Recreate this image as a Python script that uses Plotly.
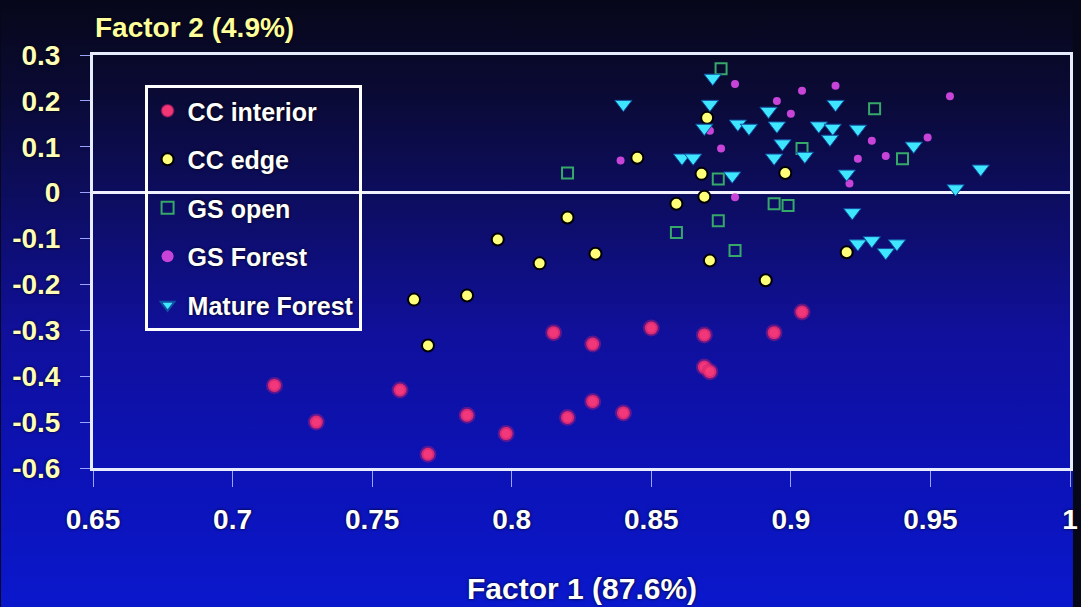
import base64
import plotly.graph_objects as go

# ---- data -------------------------------------------------------------
cc_interior_x = [0.715, 0.730, 0.760, 0.770, 0.784, 0.798, 0.815, 0.820, 0.829,
                 0.829, 0.840, 0.850, 0.869, 0.869, 0.871, 0.894, 0.904]
cc_interior_y = [-0.42, -0.50, -0.43, -0.57, -0.485, -0.525, -0.305, -0.49, -0.33,
                 -0.455, -0.48, -0.295, -0.31, -0.38, -0.39, -0.305, -0.26]

cc_edge_x = [0.765, 0.770, 0.784, 0.795, 0.810, 0.820, 0.830, 0.845, 0.859,
             0.868, 0.870, 0.869, 0.871, 0.891, 0.898, 0.920]
cc_edge_y = [-0.233, -0.333, -0.224, -0.102, -0.154, -0.054, -0.133, 0.076, -0.024,
             0.041, 0.163, -0.009, -0.148, -0.191, 0.043, -0.130]

gs_open_x = [0.820, 0.859, 0.874, 0.874, 0.880, 0.875, 0.894, 0.899, 0.904, 0.930, 0.940]
gs_open_y = [0.043, -0.087, 0.030, -0.061, -0.126, 0.270, -0.024, -0.028, 0.096, 0.183, 0.074]

gs_forest_x = [0.880, 0.895, 0.904, 0.900, 0.875, 0.871, 0.839, 0.880, 0.916,
               0.929, 0.934, 0.949, 0.921, 0.924, 0.957]
gs_forest_y = [0.237, 0.200, 0.222, 0.172, 0.096, 0.135, 0.070, -0.010, 0.233,
               0.113, 0.080, 0.120, 0.020, 0.074, 0.210]

mature_x = [0.872, 0.871, 0.869, 0.881, 0.885, 0.892, 0.895, 0.897, 0.894, 0.905,
            0.910, 0.915, 0.916, 0.861, 0.865, 0.879, 0.840, 0.914, 0.924, 0.920,
            0.944, 0.968, 0.959, 0.922, 0.924, 0.929, 0.934, 0.938]
mature_y = [0.250, 0.193, 0.141, 0.150, 0.141, 0.178, 0.146, 0.107, 0.076, 0.080,
            0.146, 0.141, 0.193, 0.076, 0.076, 0.037, 0.193, 0.117, 0.139, 0.041,
            0.102, 0.052, 0.009, -0.043, -0.111, -0.104, -0.130, -0.111]

x_ticks = [0.65, 0.7, 0.75, 0.8, 0.85, 0.9, 0.95, 1]
x_tick_labels = ["0.65", "0.7", "0.75", "0.8", "0.85", "0.9", "0.95", "1"]
y_ticks = [0.3, 0.2, 0.1, 0, -0.1, -0.2, -0.3, -0.4, -0.5, -0.6]
y_tick_labels = ["0.3", "0.2", "0.1", "0", "-0.1", "-0.2", "-0.3", "-0.4", "-0.5", "-0.6"]

# ---- figure -----------------------------------------------------------
W, H = 1081, 607
ML, MR, MT, MB = 93, 3, 55, 139
FONT = "Liberation Sans, Arial, sans-serif"

fig = go.Figure()

series = [
    ("CC interior", cc_interior_x, cc_interior_y,
     dict(symbol="circle", size=13, color="#ff3a78",
          line=dict(color="rgba(200,30,110,0.45)", width=4), opacity=0.95)),
    ("CC edge", cc_edge_x, cc_edge_y,
     dict(symbol="circle", size=12, color="#ffff78", line=dict(color="#000000", width=2))),
    ("GS open", gs_open_x, gs_open_y,
     dict(symbol="square-open", size=11, color="#35a86a", line=dict(width=2))),
    ("GS Forest", gs_forest_x, gs_forest_y,
     dict(symbol="circle", size=8, color="#c844d8", line=dict(width=0))),
    ("Mature Forest", mature_x, mature_y,
     dict(symbol="triangle-down", size=15, color="#3ee6ff", line=dict(color="#1050a0", width=1))),
]
for i, (name, xs, ys, mk) in enumerate(series):
    fig.add_trace(go.Scatter(x=xs, y=ys, mode="markers", name=name,
                             legendgroup=f"g{i}", marker=mk))

# vertical background gradient (dark navy to bright blue)
svg = (
    '<svg xmlns="http://www.w3.org/2000/svg" width="1081" height="607" preserveAspectRatio="none">'
    '<defs><linearGradient id="g" x1="0" y1="0" x2="0" y2="1">'
    '<stop offset="0" stop-color="#07071a"/>'
    '<stop offset="0.15" stop-color="#0a0a34"/>'
    '<stop offset="0.35" stop-color="#0d0d66"/>'
    '<stop offset="0.55" stop-color="#10109c"/>'
    '<stop offset="0.78" stop-color="#0c12b6"/>'
    '<stop offset="1" stop-color="#0a18cc"/>'
    '</linearGradient></defs>'
    '<rect x="0" y="0" width="1081" height="607" fill="url(#g)"/></svg>'
)
bg_src = "data:image/svg+xml;base64," + base64.b64encode(svg.encode()).decode()
pw, ph = W - ML - MR, H - MT - MB

fig.add_layout_image(dict(
    source=bg_src, xref="paper", yref="paper",
    x=-ML / pw, y=1 + MT / ph, sizex=W / pw, sizey=H / ph,
    xanchor="left", yanchor="top", sizing="stretch", layer="below",
))

shadow = "0px 0px 3px #000"
fig.update_layout(
    width=W, height=H,
    margin=dict(l=ML, r=MR, t=MT, b=MB),
    paper_bgcolor="#07071a",
    plot_bgcolor="rgba(0,0,0,0)",
    font=dict(family=FONT, color="white"),
    showlegend=True,
    legend=dict(
        x=(145 - ML) / pw, y=(H - MB - 85) / ph, xanchor="left", yanchor="top",
        bgcolor="rgba(0,0,0,0)", bordercolor="white", borderwidth=3,
        font=dict(size=25, color="white", weight="bold", shadow=shadow),
        tracegroupgap=13, itemsizing="constant",
    ),
    xaxis=dict(
        range=[0.65, 1.0], tickvals=x_ticks, ticktext=x_tick_labels,
        showgrid=False, zeroline=False,
        showline=True, linecolor="#e8ecff", linewidth=3, mirror=True,
        ticks="outside", ticklen=16, tickwidth=1, tickcolor="#9aa4ff",
        ticklabelstandoff=8, ticklabeloverflow="allow",
        tickfont=dict(size=28, color="white", weight="bold", shadow=shadow),
    ),
    yaxis=dict(
        range=[-0.6, 0.3], tickvals=y_ticks, ticktext=y_tick_labels,
        showgrid=False,
        zeroline=True, zerolinecolor="#f0f0ff", zerolinewidth=3,
        showline=True, linecolor="#e8ecff", linewidth=3, mirror=True,
        ticks="outside", ticklen=10, tickwidth=1, tickcolor="#9aa4ff",
        ticklabelstandoff=14,
        tickfont=dict(size=28, color="#ffffb8", weight="bold", shadow=shadow),
    ),
    annotations=[
        dict(text="Factor 2 (4.9%)", xref="paper", yref="paper",
             x=0.0, y=1 + (MT - 28) / ph, xanchor="left", yanchor="middle",
             showarrow=False,
             font=dict(size=28, color="#ffff9c", weight="bold", shadow=shadow)),
        dict(text="Factor 1 (87.6%)", xref="paper", yref="paper",
             x=0.5, y=-(588 - (H - MB)) / ph, xanchor="center", yanchor="middle",
             showarrow=False,
             font=dict(size=30, color="white", weight="bold", shadow=shadow)),
    ],
)

fig.write_html("out.html")
